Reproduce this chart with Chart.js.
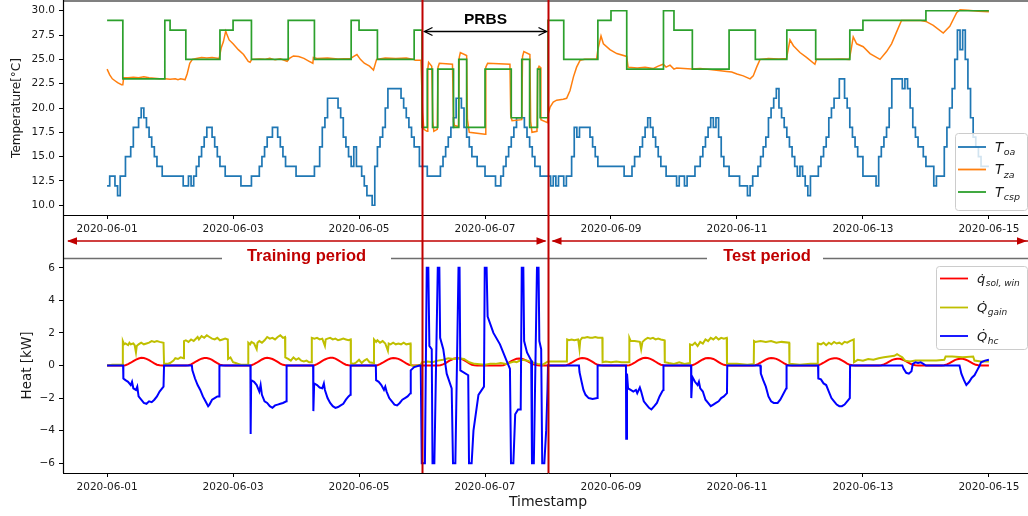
<!DOCTYPE html>
<html><head><meta charset="utf-8">
<script src="https://cdn.jsdelivr.net/npm/chart.js@4/dist/chart.umd.min.js"></script>
<style>
html,body{margin:0;padding:0;background:#fff;overflow:hidden}
#wrap{position:relative;width:1028px;height:516px;overflow:hidden;background:#fff}
#c1{position:absolute;left:0;top:0}
#c2{position:absolute;left:0;top:245px}
#ov{position:absolute;left:0;top:0;pointer-events:none}
</style></head><body>
<div id="wrap">
<canvas id="c1" width="1040" height="240"></canvas>
<canvas id="c2" width="1040" height="271"></canvas>
<canvas id="ov" width="1028" height="516"></canvas>
</div>
<script>
// ---------- data ----------
const dayTickValues = [0,2,4,6,8,10,12,14];
const dateTickLabels = ['2020-06-01','2020-06-03','2020-06-05','2020-06-07','2020-06-09','2020-06-11','2020-06-13','2020-06-15'];
const tempTickValues = [10,12.5,15,17.5,20,22.5,25,27.5,30];
const heatTickValues = [-6,-4,-2,0,2,4,6];
const prbsStartDay = 5, prbsEndDay = 7;

// outdoor air temperature, hourly from 2020-06-01 00:00
const toaHourly = [
12,13,13,12,11,13,13,15,15,16,18,18,19,20,19,18,17,16,15,14,14,13,13,13,
13,13,13,13,13,12,12,13,12,13,14,15,16,17,18,18,17,16,15,14,14,13,13,13,
13,13,13,12,12,12,12,13,13,13,14,15,16,17,17,18,18,17,16,15,14,14,14,14,
13,13,13,13,13,13,13,14,14,16,18,19,21,21,21,21,20,19,17,16,15,14,16,14,
14,13,12,11,11,10,14,16,17,18,20,22,22,22,22,22,21,20,19,18,17,16,16,14,
14,14,13,13,13,13,13,14,15,16,17,18,19,21,21,20,18,17,16,15,15,14,14,14,
13,13,13,13,12,12,13,14,15,16,17,18,19,19,19,18,17,16,15,14,14,13,13,13,
13,12,13,12,13,13,12,13,13,15,18,17,18,18,18,18,17,16,15,14,14,14,14,14,
14,14,14,14,14,13,13,13,14,15,15,16,17,18,19,18,17,16,15,14,14,13,13,13,
13,12,13,13,12,13,13,13,14,14,15,16,17,18,19,18,19,17,15,14,14,13,13,13,
13,12,12,12,11,12,13,13,14,15,16,17,19,20,21,22,20,19,18,17,16,15,14,13,
14,13,12,11,13,13,13,14,15,16,17,19,20,21,21,23,23,21,20,18,17,16,15,15,
13,13,13,13,13,12,15,16,17,18,20,23,23,23,23,22,23,22,20,18,17,16,16,15,
14,14,14,12,13,13,13,16,18,20,22,25,28,26,28,25,22,19,17,16,15,14,14,14,
14];

// zone air temperature [hour, degC]
const tzaPoints = [
[0,24.0],[1,23.4],[2,23.0],[3,22.8],[4,22.6],[5.5,22.4],[6,22.4],[6.3,23.1],[8,23.1],[10,23.15],[12,23.1],[14,23.2],[16,23.1],[18,23.05],[20,23.0],[22,23.0],[24,22.95],[26,23.0],[27,22.9],[28,23.0],[29,22.95],[29.7,22.9],[30.5,23.5],[31.5,24.6],[32.5,25.0],[34,25.1],[36,25.2],[38,25.15],[40,25.2],[42.7,25.1],
[43.5,26.2],[44.3,26.8],[45.2,27.9],[45.6,27.6],[46.5,27.0],[48,26.6],[50,26.0],[52,25.5],[53.8,24.8],[54.5,24.7],[55.1,25.0],[58,25.05],[60,25.0],[62,25.1],[64,24.95],[66,25.05],[68.6,24.8],[69.5,25.1],[71,25.35],[73,25.3],[75,25.1],[77,24.8],[78.4,24.6],[78.6,25.2],[80,25.1],[84,25.15],[88,25.05],[92.8,25.1],[94,25.3],[95.2,25.5],[96.5,25.0],[98,24.6],[100,24.3],[101.5,23.9],[102.7,25.0],[106,25.15],[110,25.1],[114,25.15],[116.7,25.0],[117.5,24.9],[119.6,24.9],
[120.2,19.5],[120.7,17.8],[121.9,17.6],[122.2,24.0],[122.5,24.7],[123.7,24.3],[124.1,18.6],[124.5,17.6],[125.8,17.8],[126.1,24.2],[126.6,24.6],[131.6,24.5],[132.0,18.6],[132.4,18.2],[133.9,18.1],[134.2,25.2],[134.6,25.7],[137.0,25.4],[137.3,18.8],[138.0,17.5],[144.0,17.3],[144.3,24.2],[145.0,24.6],[153.5,24.5],[153.8,19.2],[154.3,18.7],[158.0,18.8],[158.3,25.3],[158.8,25.8],[161.1,25.5],[161.4,18.6],[161.9,17.5],[163.8,17.6],[164.1,24.0],[164.6,24.3],[165.0,24.2],[165.3,18.8],[167.8,18.5],
[168,19.3],[168.8,20.1],[170,20.6],[171.3,20.8],[173.8,20.9],[175.1,21.0],[176.4,21.8],[177.7,23.2],[178.9,24.2],[180.2,24.9],[182,25.0],[186.5,25.0],[187,26.0],[188.2,27.4],[189.1,26.6],[191.6,26.0],[194.2,25.6],[198,25.3],[198.5,24.2],[202,24.1],[205,24.2],[208,24.05],[210,24.3],[211.9,24.5],[213,24.2],[214.5,24.4],[216,24.0],[217,24.1],[222.7,24.0],[226,24.05],[229.7,23.95],[233,23.85],[236.1,23.75],[238,23.7],[240,23.5],[242.4,23.3],[245,23.0],[246.2,23.3],[247.5,24.2],[248.8,25.0],[252,25.1],[256,25.05],[258.9,25.1],[259.5,26.0],[260.2,27.0],[261.5,26.4],[264,25.7],[266.5,25.2],[269.7,24.5],[270.3,25.0],[275,25.0],[280,25.05],[282.8,25.0],[283.5,26.0],[284.3,27.3],[285.6,26.6],[288.1,26.3],[290.7,25.6],[294.5,25.0],[297,25.8],[298.9,26.6],[300.8,27.8],[302.7,29.0],[306,29.0],[310,29.0],[312,28.9],[314.8,28.5],[318.6,27.7],[321.1,28.4],[323.7,29.8],[325,30.1],[328,30.05],[332,29.95],[336,29.9]];

// cooling set point (step changes) [hour, degC]
const tcspPoints = [
[0,29],[6,23],[22,29],[24,28],[30,25],[43,28],[48,29],[55,25],[69,29],[79,25],[93,29],[96,28],[103,25],[117,28],
[120,18],[122,24],[124,18],[126,24],[132,18],[134,25],[137,18],[144,24],[154,19],[158,25],[161,18],[164,24],[165,19],
[168,29],[174,25],[187,29],[192,30],[198,24],[212,30],[216,28],[223,24],[237,28],[247,25],[259,28],[270,25],[283,28],[288,29],[312,30],[336,30]];

// solar gain through windows, hourly [kW]
const qsolHourly = [
0,0,0,0,0,0,0,0.02,0.08,0.17,0.27,0.36,0.43,0.47,0.46,0.41,0.33,0.23,0.13,0.05,0.01,0,0,0,
0,0,0,0,0,0,0,0.02,0.07,0.16,0.26,0.35,0.42,0.46,0.46,0.42,0.34,0.24,0.14,0.05,0.01,0,0,0,
0,0,0,0,0,0,0,0.02,0.08,0.17,0.27,0.37,0.44,0.47,0.45,0.40,0.32,0.22,0.12,0.04,0.01,0,0,0,
0,0,0,0,0,0,0,0.02,0.08,0.18,0.28,0.37,0.44,0.48,0.47,0.42,0.33,0.23,0.13,0.05,0.01,0,0,0,
0,0,0,0,0,0,0,0.02,0.08,0.17,0.27,0.36,0.43,0.46,0.45,0.41,0.33,0.23,0.13,0.05,0.01,0,0,0,
0,0,0,0,0,0,0,0.02,0.07,0.15,0.25,0.34,0.41,0.45,0.45,0.41,0.33,0.23,0.13,0.05,0.01,0,0,0,
0,0,0,0,0,0,0,0.02,0.08,0.17,0.27,0.35,0.41,0.43,0.41,0.36,0.28,0.19,0.10,0.04,0.01,0,0,0,
0,0,0,0,0,0,0,0.02,0.08,0.17,0.27,0.36,0.43,0.46,0.45,0.40,0.32,0.22,0.12,0.04,0.01,0,0,0,
0,0,0,0,0,0,0,0.02,0.08,0.17,0.28,0.37,0.44,0.47,0.46,0.41,0.33,0.23,0.13,0.05,0.01,0,0,0,
0,0,0,0,0,0,0,0.02,0.08,0.18,0.28,0.37,0.44,0.46,0.45,0.40,0.31,0.21,0.11,0.04,0.01,0,0,0,
0,0,0,0,0,0,0,0.02,0.08,0.17,0.27,0.36,0.43,0.46,0.45,0.41,0.33,0.23,0.13,0.05,0.01,0,0,0,
0,0,0,0,0,0,0,0.02,0.08,0.17,0.27,0.36,0.42,0.45,0.44,0.40,0.32,0.22,0.12,0.04,0.01,0,0,0,
0,0,0,0,0,0,0,0.02,0.07,0.15,0.24,0.33,0.39,0.42,0.41,0.37,0.30,0.21,0.12,0.04,0.01,0,0,0,
0,0,0,0,0,0,0,0.02,0.07,0.15,0.24,0.33,0.39,0.42,0.41,0.37,0.30,0.21,0.12,0.04,0.01,0,0,0,
0];

// internal heat gain [hour, kW]
const qgainPoints = [
[0,0.0],[2,0.05],[5.9,0.05],[6.0,1.5],[6.5,1.3],[7,1.35],[8,1.25],[8.5,1.4],[9,1.3],[10,1.35],[10.5,1.25],[11,0.8],[11.3,1.2],[12,1.3],[13,1.4],[14,1.3],[15,1.35],[16,1.4],[17,1.5],[18,1.45],[19,1.5],[20,1.45],[21.5,1.4],[21.7,0.1],[23,0.1],[24,0.15],[25.3,0.3],[26,0.45],[27,0.4],[28,0.5],[29.2,0.45],
[29.3,1.5],[30,1.55],[31,1.45],[32,1.6],[33,1.5],[34.5,1.75],[35,1.6],[36,1.8],[37,1.7],[38,1.85],[39,1.75],[40,1.65],[41,1.6],[42,1.7],[43,1.55],[44,1.6],[45,1.65],[46,1.6],[46.1,0.4],[47,0.5],[48,0.2],[49,0.15],[50,0.1],[51,0.05],[53.7,0.05],
[53.8,1.4],[54.5,1.3],[55,1.45],[56,1.35],[57,1.0],[57.3,1.4],[58,1.5],[59,1.4],[60,1.55],[61,1.75],[62,1.65],[63,1.7],[64,1.6],[65,1.75],[66,1.85],[67,1.7],[67.8,1.75],[67.9,0.5],[69,0.4],[70,0.3],[71,0.5],[72,0.35],[73,0.45],[74,0.3],[75,0.25],[76,0.3],[77,0.2],[77.9,0.2],
[78,1.7],[79,1.65],[80,1.7],[81,1.6],[82,1.65],[83,1.2],[83.3,1.6],[84,1.65],[85,1.7],[86,1.6],[87,1.65],[88,1.55],[89,1.6],[90,1.65],[91,1.6],[92,1.55],[92.8,1.6],[92.9,0.15],[94,0.1],[95,0.2],[96,0.35],[97,0.15],[98,0.3],[99,0.4],[100,0.2],[101.6,0.15],
[101.7,1.6],[102.5,1.45],[103,1.55],[104,1.4],[105,1.5],[106,1.35],[107,0.9],[107.3,1.35],[108,1.3],[109,1.4],[110,1.3],[111,1.35],[112,1.3],[113,1.4],[114,1.3],[115.6,1.35],[115.7,0.05],[117,-0.05],[118,0.0],[119.5,0.05],
[120,0.2],[122,0.25],[124,0.2],[126,0.3],[128,0.35],[130,0.45],[132,0.4],[134,0.45],[136,0.4],[138,0.2],[140,0.1],[144,0.05],[146,0.1],[148,0.1],[150,0.15],[152,0.1],[155,0.25],[156,0.2],[158,0.35],[160,0.3],[162,0.2],[164,0.1],[166,0.05],[168,0.25],
[170,0.25],[175.2,0.25],[175.3,1.6],[176,1.55],[177,1.6],[178,1.55],[179.5,1.6],[180,1.0],[180.3,1.55],[181,1.7],[182,1.7],[183,1.75],[184,1.7],[185,1.7],[186,1.75],[187,1.7],[188.7,1.7],[188.8,0.2],[190,0.25],[192,0.2],[194,0.25],[196,0.2],[198.9,0.2],
[199,1.7],[199.5,1.5],[201,1.5],[203,1.45],[203.5,1.0],[204,1.45],[205,1.6],[206,1.7],[207,1.65],[208,1.7],[209,1.6],[210,1.65],[211,1.6],[212.4,1.55],[212.5,0.2],[214,0.15],[216,0.1],[218,0.2],[220,0.1],[222,0.15],
[222.1,1.3],[223,1.25],[224,1.4],[225,1.2],[226,1.45],[227,1.35],[228,1.6],[229,1.5],[230,1.7],[231,1.6],[232,1.75],[233,1.6],[234,1.7],[235,1.65],[236.1,1.7],[236.2,0.1],[240,0.1],[244,0.05],[246.4,0.1],
[246.5,1.5],[247,1.45],[249,1.5],[251,1.45],[253,1.5],[255,1.4],[257,1.45],[259.9,1.4],[260,0.1],[264,0.05],[268,0.1],[270.7,0.1],
[270.8,1.35],[272,1.3],[273,1.4],[274,1.25],[275,1.4],[276,1.3],[277,1.45],[278,1.35],[279,1.4],[280,1.3],[281,1.45],[282,1.4],[283,1.5],[284.5,1.6],[284.6,0.2],[286,0.35],[288,0.3],[290,0.4],[292,0.35],[294,0.45],[296,0.5],[298,0.55],[300,0.6],[301,0.7],[302,0.6],[303,0.5],[304,0.3],[306,0.25],[308,0.3],[312,0.3],[316,0.3],[319,0.35],[319.5,0.55],[322,0.55],[326,0.5],[330,0.55],[330.5,0.3],[333,0.25],[336,0.25]];

// heating / cooling rate [hour, kW]
const qhcPoints = [
[0,0],[6.1,0],[6.2,-0.8],[7,-0.9],[8,-1.0],[9,-1.2],[9.5,-1.0],[10,-1.4],[11,-1.5],[11.5,-1.3],[12,-1.9],[13,-2.1],[14,-2.3],[15,-2.35],[16,-2.2],[17,-2.25],[18,-2.1],[19,-1.9],[20,-1.6],[21.5,-1.3],[21.7,0],
[32.3,0],[32.5,-0.3],[33.5,-0.8],[34.5,-1.2],[35.5,-1.5],[36.5,-1.9],[37.5,-2.2],[38.5,-2.5],[39,-2.4],[40,-2.1],[41,-2.0],[42,-1.9],[42.7,-1.9],[42.8,0],
[54.6,0],[54.7,-4.2],[54.9,-0.9],[56,-1.0],[57,-1.2],[58,-1.6],[58.5,-1.2],[59,-1.8],[60,-2.2],[61,-2.3],[62,-2.5],[63,-2.6],[64,-2.45],[65,-2.4],[66,-2.35],[67,-2.3],[68.3,-2.2],[68.4,0],
[78.5,0],[78.6,-2.8],[78.9,-1.1],[80,-1.2],[81,-1.35],[82,-1.4],[82.6,-1.1],[83,-1.5],[84,-2.0],[85,-2.3],[86,-2.5],[87,-2.6],[88,-2.55],[89,-2.45],[90,-2.35],[91,-2.1],[92,-1.9],[92.7,-1.8],[92.8,0],
[102.4,0],[102.5,-0.9],[103.5,-1.0],[104.5,-1.2],[105.5,-1.5],[106,-1.3],[106.5,-1.6],[107.5,-2.0],[108.5,-2.2],[109.5,-2.4],[110.5,-2.45],[111.5,-2.3],[112.5,-2.1],[113.5,-2.0],[114.5,-1.9],[115.6,-1.7],[115.7,-0.3],[117,-0.1],[119,0],[119.5,0],
[119.9,-6],[121.1,-6],[121.8,6],[122.4,6],[122.8,1.2],[123.7,1.0],[124.0,-6],[124.7,-6],[126.0,6],[126.6,6],[126.9,1.7],[128.1,1.0],[129.4,-0.5],[131.3,-1.4],[131.8,-6],[132.7,-6],[133.9,6],[134.3,6],[134.6,-0.3],[137.6,-0.6],[137.9,-6],[138.9,-6],[139.6,-4.0],[141.5,-1.8],[143.6,-1.3],[143.9,6],[144.6,6],[145.0,3.0],[147.2,2.0],[149.7,1.3],[152.2,0.3],[153.5,-0.2],[153.9,-6],[154.8,-6],[155.5,-3.0],[156.6,-2.7],[157.6,-2.7],[158.0,6],[158.6,6],[158.9,1.5],[160,0.8],[161.6,0.3],[161.9,-6],[162.6,-6],[163.8,6],[164.4,6],[164.7,1.5],[165.4,1.0],[165.8,-6],[166.6,-6],[167.3,-4.0],[167.8,-1.5],[168.0,0],
[179.8,0],[180,-0.4],[180.8,-1.0],[181.5,-1.5],[182.3,-1.8],[183.5,-2.0],[185,-2.05],[186.8,-2.0],[186.9,0],
[197.7,0],[197.8,-4.5],[198.1,-0.5],[198.5,-1.4],[199.5,-1.5],[200.5,-1.6],[201.5,-1.5],[202,-1.7],[203,-1.35],[203.5,-1.6],[204.5,-2.2],[205.5,-2.4],[206.5,-2.6],[207.4,-2.7],[208.5,-2.5],[209.5,-2.3],[210.5,-1.9],[211.5,-1.6],[211.9,-1.5],[212,0],
[222.5,0],[222.6,-2.0],[223,-0.7],[224,-1.0],[225,-1.2],[225.5,-1.0],[226,-1.4],[227,-1.6],[228,-2.1],[229,-2.3],[230,-2.5],[231,-2.4],[232,-2.3],[233,-2.2],[234,-2.0],[235,-1.9],[236.2,-1.7],[236.3,0],
[248.9,0],[249.1,-0.5],[250,-0.9],[251,-1.3],[252,-1.9],[253,-2.2],[254,-2.3],[255.5,-2.3],[256.5,-2.1],[257.5,-1.8],[258.8,-1.4],[258.9,0],
[270.9,0],[271,-0.8],[272,-0.85],[273,-1.1],[274,-1.2],[275,-1.6],[276,-2.0],[277,-2.2],[278,-2.4],[279,-2.5],[280,-2.5],[281,-2.4],[282,-2.2],[283,-2.0],[283.1,0],
[303,0],[303.5,-0.2],[304.5,-0.45],[305.5,-0.5],[306.5,-0.35],[307,0.1],[308,0.2],[309,0.15],[310,0.2],[311,0.1],[312,0],
[324.8,0],[325.5,-0.5],[326.5,-0.9],[327.4,-1.2],[328.5,-1.0],[329.5,-0.75],[330.5,-0.6],[331.5,-0.3],[332.5,0.0],[333,0.2],[334.5,0.3],[336,0.35]];

// ---------- helpers ----------
const hourly = arr => arr.map((v,i)=>({x:i/24,y:v}));
const pairs = arr => arr.map(p=>({x:p[0]/24,y:p[1]}));
Chart.defaults.font.family = "'DejaVu Sans', sans-serif";
Chart.defaults.color = '#1a1a1a';
const tickFont = {size:10.5, family:"'DejaVu Sans', sans-serif"};

function xScale(height, title){
  return {
    type:'linear', min:-0.7, max:14.7,
    afterBuildTicks: s => { s.ticks = dayTickValues.map(v=>({value:v})); },
    afterFit: s => { s.height = height; s.paddingLeft=0; s.paddingRight=0; s.paddingTop=0; s.paddingBottom=0; },
    ticks:{ autoSkip:false, maxRotation:0, minRotation:0, font:tickFont, color:'#1a1a1a', padding:3.5,
      callback: v => dateTickLabels[dayTickValues.indexOf(v)] },
    grid:{ display:true, drawOnChartArea:false, drawTicks:true, tickLength:4, tickColor:'#000', color:'#000' },
    border:{ display:true, color:'#000', width:1 },
    title: title
  };
}
function yScale(min,max,ticks,fmt,title){
  return {
    min:min, max:max,
    afterBuildTicks: s => { s.ticks = ticks.map(v=>({value:v})); },
    afterFit: s => { s.width = 63; s.paddingLeft=0; s.paddingRight=0; s.paddingTop=0; s.paddingBottom=0; },
    ticks:{ font:tickFont, color:'#1a1a1a', padding:4, callback: fmt },
    grid:{ display:true, drawOnChartArea:false, drawTicks:true, tickLength:4, tickColor:'#000', color:'#000' },
    border:{ display:true, color:'#000', width:1 },
    title: title
  };
}
const lineDs = (label, data, color, width, order, stepped) => ({
  label, data, borderColor:color, backgroundColor:color, borderWidth:width,
  pointRadius:0, tension:0, fill:false, stepped: stepped||false, order
});

const chartTop = new Chart(document.getElementById('c1'), {
  type:'line',
  data:{ datasets:[
    lineDs('T_oa', hourly(toaHourly), '#1f77b4', 1.7, 3, true),
    lineDs('T_za', pairs(tzaPoints), '#ff7f0e', 1.5, 2, false),
    lineDs('T_csp', pairs(tcspPoints), '#2ca02c', 1.7, 1, true)
  ]},
  options:{
    responsive:false, animation:false, devicePixelRatio:1,
    layout:{ padding:{left:0, right:7, top:1, bottom:0} },
    plugins:{ legend:{display:false}, tooltip:{enabled:false} },
    scales:{
      x: xScale(25, {display:false}),
      y: yScale(9,31,tempTickValues, v=>Number(v).toFixed(1),
        {display:true, text:'Temperature[°C]', color:'#1a1a1a', font:{size:12}, padding:{top:10,bottom:0}})
    }
  }
});

const chartBot = new Chart(document.getElementById('c2'), {
  type:'line',
  data:{ datasets:[
    lineDs('q_sol,win', hourly(qsolHourly), '#ff0000', 2, 3, false),
    lineDs('Q_gain', pairs(qgainPoints), '#bfbf00', 2, 2, false),
    lineDs('Q_hc', pairs(qhcPoints), '#0000ff', 2, 1, false)
  ]},
  options:{
    responsive:false, animation:false, devicePixelRatio:1,
    layout:{ padding:{left:0, right:7, top:13, bottom:0} },
    plugins:{ legend:{display:false}, tooltip:{enabled:false} },
    scales:{
      x: xScale(43, {display:true, text:'Timestamp', color:'#1a1a1a', font:{size:14}, padding:{top:0,bottom:5}}),
      y: yScale(-6.6,6.6,heatTickValues, v=> v<0 ? '\u2212'+Math.abs(v) : String(v),
        {display:true, text:'Heat [kW]', color:'#1a1a1a', font:{size:13.5}, padding:{top:19,bottom:0}})
    }
  }
});

// ---------- annotations overlay ----------
function head(ctx, x, y, dir, len, hw, filled){
  ctx.beginPath();
  ctx.moveTo(x - dir*len, y - hw);
  ctx.lineTo(x, y);
  ctx.lineTo(x - dir*len, y + hw);
  if (filled){ ctx.closePath(); ctx.fill(); } else ctx.stroke();
}
function legendEntry(ctx, x0, y, color, main, sub, mainSize, subSize, dotted){
  ctx.strokeStyle = color; ctx.lineWidth = 1.8;
  ctx.beginPath(); ctx.moveTo(x0, y); ctx.lineTo(x0+28, y); ctx.stroke();
  ctx.fillStyle = '#1a1a1a';
  ctx.textAlign = 'left'; ctx.textBaseline = 'alphabetic';
  ctx.font = 'italic ' + mainSize + "px 'DejaVu Sans'";
  const tx = x0 + 37, base = y + mainSize*0.36;
  const txt = dotted ? main + '\u0307' : main;
  ctx.fillText(txt, tx, base);
  const w = ctx.measureText(main).width;
  ctx.font = 'italic ' + subSize + "px 'DejaVu Sans'";
  ctx.fillText(sub, tx + w + 0.5, base + subSize*0.35);
}
function drawOverlay(){
  const ov = document.getElementById('ov'); const ctx = ov.getContext('2d');
  ctx.clearRect(0,0,ov.width,ov.height);
  const off = 245;
  const ta = chartTop.chartArea, ba = chartBot.chartArea;
  const xs = chartTop.scales.x;
  const xa = Math.round(xs.getPixelForValue(prbsStartDay)) + 0.5;
  const xb = Math.round(xs.getPixelForValue(prbsEndDay)) + 0.5;
  const L = ta.left;
  // spines
  ctx.strokeStyle = '#808080'; ctx.lineWidth = 2;
  ctx.beginPath(); ctx.moveTo(L, 1); ctx.lineTo(1028, 1); ctx.stroke();
  ctx.strokeStyle = '#6e6e6e'; ctx.lineWidth = 1.3;
  ctx.beginPath(); ctx.moveTo(L, off + ba.top + 0.5); ctx.lineTo(1028, off + ba.top + 0.5); ctx.stroke();
  ctx.strokeStyle = '#000'; ctx.lineWidth = 1.2;
  ctx.beginPath(); ctx.moveTo(L + 0.5, 0); ctx.lineTo(L + 0.5, off + ba.bottom); ctx.stroke();
  // PRBS marker lines
  ctx.strokeStyle = '#c00000'; ctx.lineWidth = 2;
  [xa, xb].forEach(x => { ctx.beginPath(); ctx.moveTo(x, 0); ctx.lineTo(x, off + ba.bottom); ctx.stroke(); });
  // PRBS label + double arrow
  ctx.fillStyle = '#000'; ctx.font = "bold 15.5px 'Liberation Sans'";
  ctx.textAlign = 'center'; ctx.textBaseline = 'middle';
  ctx.fillText('PRBS', (xa + xb)/2, 19.5);
  ctx.strokeStyle = '#000'; ctx.lineWidth = 1.3;
  const ya = 31.5;
  ctx.beginPath(); ctx.moveTo(xa + 2, ya); ctx.lineTo(xb - 2, ya); ctx.stroke();
  head(ctx, xa + 2, ya, -1, 8, 4, false);
  head(ctx, xb - 2, ya, 1, 8, 4, false);
  // period arrows
  const yp = 241;
  ctx.strokeStyle = '#c00000'; ctx.fillStyle = '#c00000'; ctx.lineWidth = 1.6;
  ctx.beginPath(); ctx.moveTo(L + 5, yp); ctx.lineTo(xb - 3, yp); ctx.stroke();
  head(ctx, L + 4, yp, -1, 10, 3.8, true);
  head(ctx, xb - 2, yp, 1, 10, 3.8, true);
  ctx.beginPath(); ctx.moveTo(xb + 4, yp); ctx.lineTo(1028, yp); ctx.stroke();
  head(ctx, xb + 3, yp, -1, 10, 3.8, true);
  head(ctx, 1027, yp, 1, 10, 3.8, true);
  // period labels with white boxes
  ctx.font = "bold 16.5px 'Liberation Sans'"; ctx.textAlign='center'; ctx.textBaseline='middle';
  const labels = [['Training period', 306.5, 222, 391], ['Test period', 767, 707, 823]];
  labels.forEach(([t, cx, x0, x1]) => {
    ctx.fillStyle = '#fff'; ctx.fillRect(x0, 247, x1 - x0, 18);
    ctx.fillStyle = '#c00000'; ctx.fillText(t, cx, 256.5);
  });
  // legend: temperatures
  ctx.fillStyle = 'rgba(255,255,255,0.8)'; ctx.strokeStyle = '#cccccc'; ctx.lineWidth = 1;
  ctx.beginPath(); ctx.roundRect(955.5, 133.5, 72, 77, 3); ctx.fill(); ctx.stroke();
  legendEntry(ctx, 958, 147, '#1f77b4', 'T', 'oa', 13.5, 9.5, false);
  legendEntry(ctx, 958, 169.5, '#ff7f0e', 'T', 'za', 13.5, 9.5, false);
  legendEntry(ctx, 958, 192, '#2ca02c', 'T', 'csp', 13.5, 9.5, false);
  // legend: heat
  ctx.fillStyle = 'rgba(255,255,255,0.8)'; ctx.strokeStyle = '#cccccc'; ctx.lineWidth = 1;
  ctx.beginPath(); ctx.roundRect(936.5, 266.5, 91, 83, 3); ctx.fill(); ctx.stroke();
  legendEntry(ctx, 940, 278.5, '#ff0000', 'q', 'sol, win', 13, 9, true);
  legendEntry(ctx, 940, 307.5, '#bfbf00', 'Q', 'gain', 13, 9, true);
  legendEntry(ctx, 940, 336, '#0000ff', 'Q', 'hc', 13, 9, true);
}
drawOverlay();
window.addEventListener('load', drawOverlay);
</script>
</body></html>
